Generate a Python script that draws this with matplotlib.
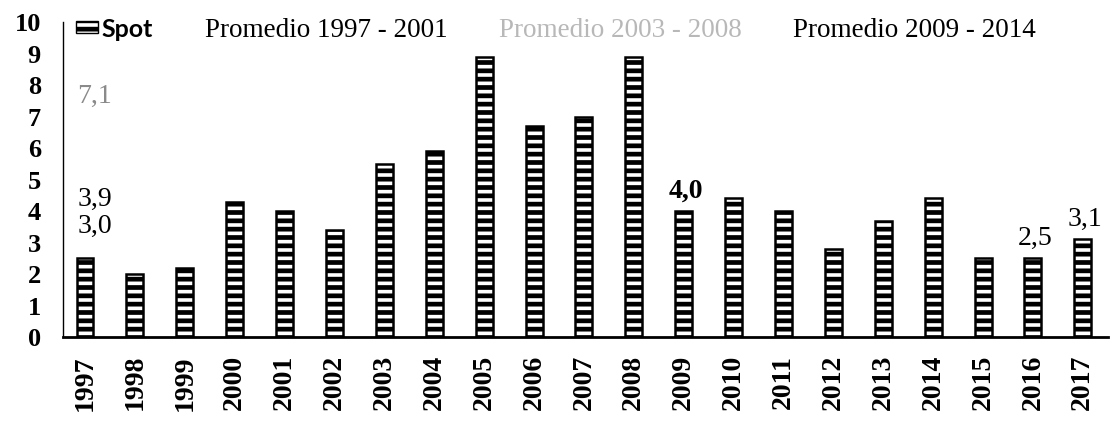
import numpy as np
import matplotlib.pyplot as plt
from matplotlib.patches import Patch
from matplotlib.lines import Line2D

years = [str(y) for y in range(1997, 2018)]
spot = [2.5, 2.0, 2.2, 4.3, 4.0, 3.4, 5.5, 5.9, 8.9, 6.7, 7.0,
        8.9, 4.0, 4.4, 4.0, 2.8, 3.7, 4.4, 2.5, 2.5, 3.1]

# promedio periods (first year, last year)
periods = [(1997, 2001), (2003, 2008), (2009, 2014)]
period_labels = ["Promedio 1997 - 2001", "Promedio 2003 - 2008", "Promedio 2009 - 2014"]
period_text_colors = ["black", "#b8b8b8", "black"]
avg_label_colors = ["black", "#8a8a8a", "black"]

# years whose bar value is written on top
labelled_years = ["2009", "2016", "2017"]

plt.rcParams["hatch.linewidth"] = 3.4
serif = "Liberation Serif"

fig = plt.figure(figsize=(11.1, 4.25), dpi=100)
ax = fig.add_axes([0.0568, 0.207, 0.9412, 0.741])

x = np.arange(len(years))
ax.bar(x, spot, width=0.34, facecolor="white", edgecolor="black",
       linewidth=1.8, hatch="--", zorder=2)

# average lines (white in the original scan)
avgs = []
for (a, b) in periods:
    vals = [v for y, v in zip(years, spot) if a <= int(y) <= b]
    avg = np.mean(vals)
    avgs.append(avg)
    ax.axhline(avg, color="white", lw=1.5, zorder=0)

for avg, col in zip(avgs, avg_label_colors):
    ax.text(0.2, avg + 0.5, f"{avg:.1f}".replace(".", ","), ha="center",
            va="center", fontsize=20, family=serif, color=col)

for yr in labelled_years:
    i = years.index(yr)
    bold = "bold" if yr == "2009" else "normal"
    ax.text(i + 0.05, spot[i] + 0.25, f"{spot[i]:.1f}".replace(".", ","),
            ha="center", va="bottom", fontsize=20, family=serif,
            fontweight=bold)

ax.set_xlim(-0.44, 20.5)
ax.set_ylim(0, 10)
ax.set_xticks(x)
ax.set_xticklabels(years, rotation=90, fontsize=20, family=serif,
                   fontweight="bold")
ax.set_yticks(range(0, 11))
ax.set_yticklabels([str(v) for v in range(0, 11)], fontsize=19,
                   family=serif, fontweight="bold")
ax.tick_params(axis="x", length=0, pad=13)
ax.tick_params(axis="y", length=0, pad=16)
for s in ["top", "right"]:
    ax.spines[s].set_visible(False)
ax.spines["left"].set_linewidth(1.0)
ax.spines["bottom"].set_linewidth(2.0)

handles = [Patch(facecolor="white", edgecolor="black", hatch="--", linewidth=1)]
handles += [Line2D([0], [0], color="white", lw=1.5) for _ in periods]
leg = fig.legend(handles, ["Spot"] + period_labels, loc="center left",
                 bbox_to_anchor=(0.0685, 0.929), ncol=4, frameon=False,
                 fontsize=19.5, handlelength=0.8, handleheight=0.35,
                 handletextpad=0.15, columnspacing=0.95, borderpad=0,
                 borderaxespad=0)
txts = leg.get_texts()
txts[0].set_family("Lato")
txts[0].set_fontweight("bold")
txts[0].set_fontsize(18)
for t, col in zip(txts[1:], period_text_colors):
    t.set_family(serif)
    t.set_color(col)

fig.savefig("out.png", dpi=100)
